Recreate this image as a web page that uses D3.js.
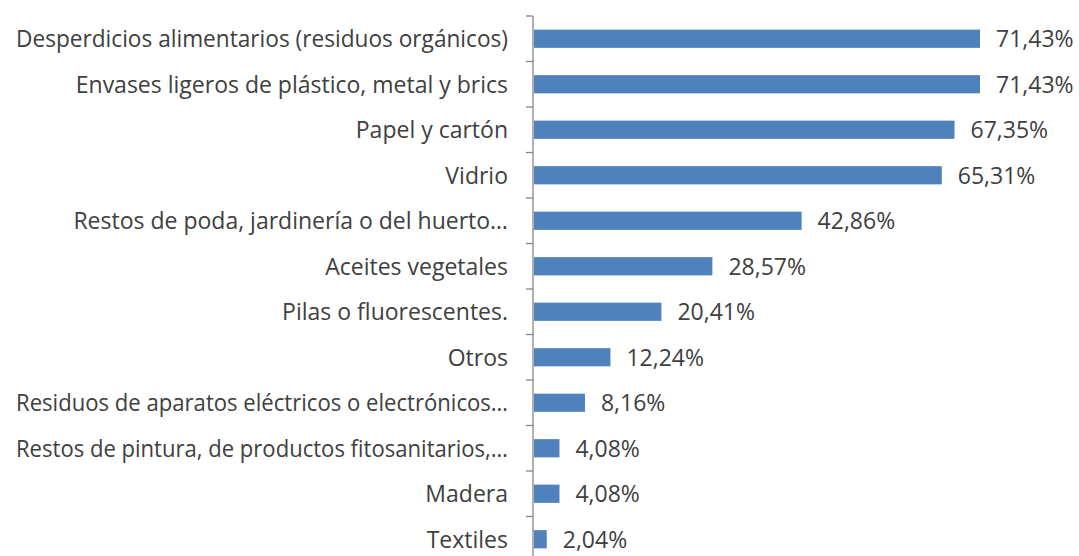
<!DOCTYPE html>
<html>
<head>
<meta charset="utf-8">
<script src="https://cdn.jsdelivr.net/npm/d3@7"></script>
<style>
  body { margin: 0; background: #fff; }
  text { font-family: "Open Sans", "Noto Sans", sans-serif; fill: #404040; }
</style>
</head>
<body>
<div id="chart"></div>
<script>
const categories = [
  "Desperdicios alimentarios (residuos orgánicos)",
  "Envases ligeros de plástico, metal y brics",
  "Papel y cartón",
  "Vidrio",
  "Restos de poda, jardinería o del huerto…",
  "Aceites vegetales",
  "Pilas o fluorescentes.",
  "Otros",
  "Residuos de aparatos eléctricos o electrónicos…",
  "Restos de pintura, de productos fitosanitarios,…",
  "Madera",
  "Textiles"
];
const values = [71.43, 71.43, 67.35, 65.31, 42.86, 28.57, 20.41, 12.24, 8.16, 4.08, 4.08, 2.04];

const W = 1079, H = 556;
const axisX = 533, plotTop = 16, step = 45.5;

const svg = d3.select("#chart").append("svg").attr("width", W).attr("height", H);

const x = d3.scaleLinear().domain([0, 71.43]).range([axisX + 1, 980]);
const y = d3.scaleBand().domain(categories).range([plotTop, plotTop + step * categories.length]).paddingInner(0.6).paddingOuter(0.3);

const fmt = v => v.toFixed(2).replace(".", ",") + "%";

// bars
svg.append("g").selectAll("rect").data(categories).enter().append("rect")
  .attr("x", x(0))
  .attr("y", d => y(d))
  .attr("width", (d, i) => x(values[i]) - x(0))
  .attr("height", y.bandwidth())
  .attr("fill", "#4F81BD");

// value labels
svg.append("g").selectAll("text").data(categories).enter().append("text")
  .attr("x", (d, i) => x(values[i]) + 16)
  .attr("y", d => y(d) + y.bandwidth() / 2)
  .attr("dy", "0.36em")
  .attr("font-size", "23px")
  .text((d, i) => fmt(values[i]));

// axis line + ticks between categories
const ax = svg.append("g").attr("stroke", "#868686").attr("stroke-width", 1.3);
ax.append("line").attr("x1", axisX).attr("x2", axisX).attr("y1", plotTop).attr("y2", H);
d3.range(categories.length + 1).forEach(i => {
  const ty = plotTop + i * step;
  if (ty < H) ax.append("line").attr("x1", axisX - 7).attr("x2", axisX).attr("y1", ty).attr("y2", ty);
});

// category labels (squeeze the longest ones so they fit like the original)
const maxLabelW = 492;
svg.append("g").selectAll("text").data(categories).enter().append("text")
  .attr("x", axisX - 25)
  .attr("y", d => y(d) + y.bandwidth() / 2)
  .attr("dy", "0.36em")
  .attr("text-anchor", "end")
  .attr("font-size", "23px")
  .text(d => d)
  .each(function() {
    if (this.getComputedTextLength() > maxLabelW) {
      d3.select(this).attr("textLength", maxLabelW).attr("lengthAdjust", "spacingAndGlyphs");
    }
  });
</script>
</body>
</html>
